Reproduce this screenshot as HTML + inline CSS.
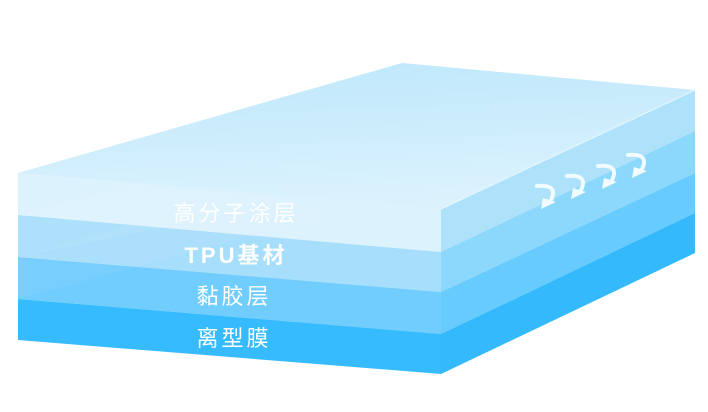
<!DOCTYPE html>
<html><head><meta charset="utf-8"><style>
html,body{margin:0;padding:0;background:#fff;width:708px;height:412px;overflow:hidden}
svg{display:block}
text{font-family:"Liberation Sans","Noto Sans CJK SC",sans-serif;fill:#fff;font-size:22px;letter-spacing:3px;text-anchor:middle}
</style></head><body>
<svg width="708" height="412" viewBox="0 0 708 412">
<defs>
<linearGradient id="top" x1="0" y1="0" x2="0.2" y2="1">
<stop offset="0" stop-color="#bde7fc"/><stop offset="1" stop-color="#dbf2fd"/>
</linearGradient>
</defs>
<polygon points="18,173 441,209 441,252 18,215" fill="#dcf2fd"/>
<polygon points="18,215 441,252 441,292 18,257" fill="#a6defb"/>
<polygon points="18,257 441,292 441,334 18,299" fill="#70cdfd"/>
<polygon points="18,299 441,334 441,374 18,340" fill="#36bbfe"/>
<polygon points="441,209 695,90 695,131 441,252" fill="#aee2fb"/>
<polygon points="441,252 695,131 695,173 441,292" fill="#8cd7fc"/>
<polygon points="441,292 695,173 695,213 441,334" fill="#68cbfd"/>
<polygon points="441,334 695,213 695,253 441,374" fill="#34b9fd"/>
<polygon points="18,215 130,185 300,200 18,257" fill="#fff" opacity="0.08"/>
<polygon points="18,257 200,205 330,215 18,299" fill="#fff" opacity="0.06"/>
<polygon points="18,173 402,63 695,90 441,209" fill="url(#top)"/>
<polyline points="441,209 695,90" stroke="#e8f7fe" stroke-width="1" fill="none"/>
<text x="236" y="221">高分子涂层</text>
<text x="236" y="263" font-weight="bold">TPU基材</text>
<text x="234" y="304">黏胶层</text>
<text x="234" y="346">离型膜</text>
<g fill="none" stroke="#f2fbff" stroke-width="4" stroke-linecap="round">
<path d="M537,186 Q560,184 550,202"/>
<path d="M567,176 Q590,174 580,192"/>
<path d="M598,166 Q621,164 611,182"/>
<path d="M628,155 Q651,153 641,171"/>
</g>
<g fill="#f2fbff">
<polygon points="543,198 556,202 541,209"/>
<polygon points="573,188 586,192 571,199"/>
<polygon points="604,178 617,182 602,189"/>
<polygon points="634,167 647,171 632,178"/>
</g>
</svg>
</body></html>
